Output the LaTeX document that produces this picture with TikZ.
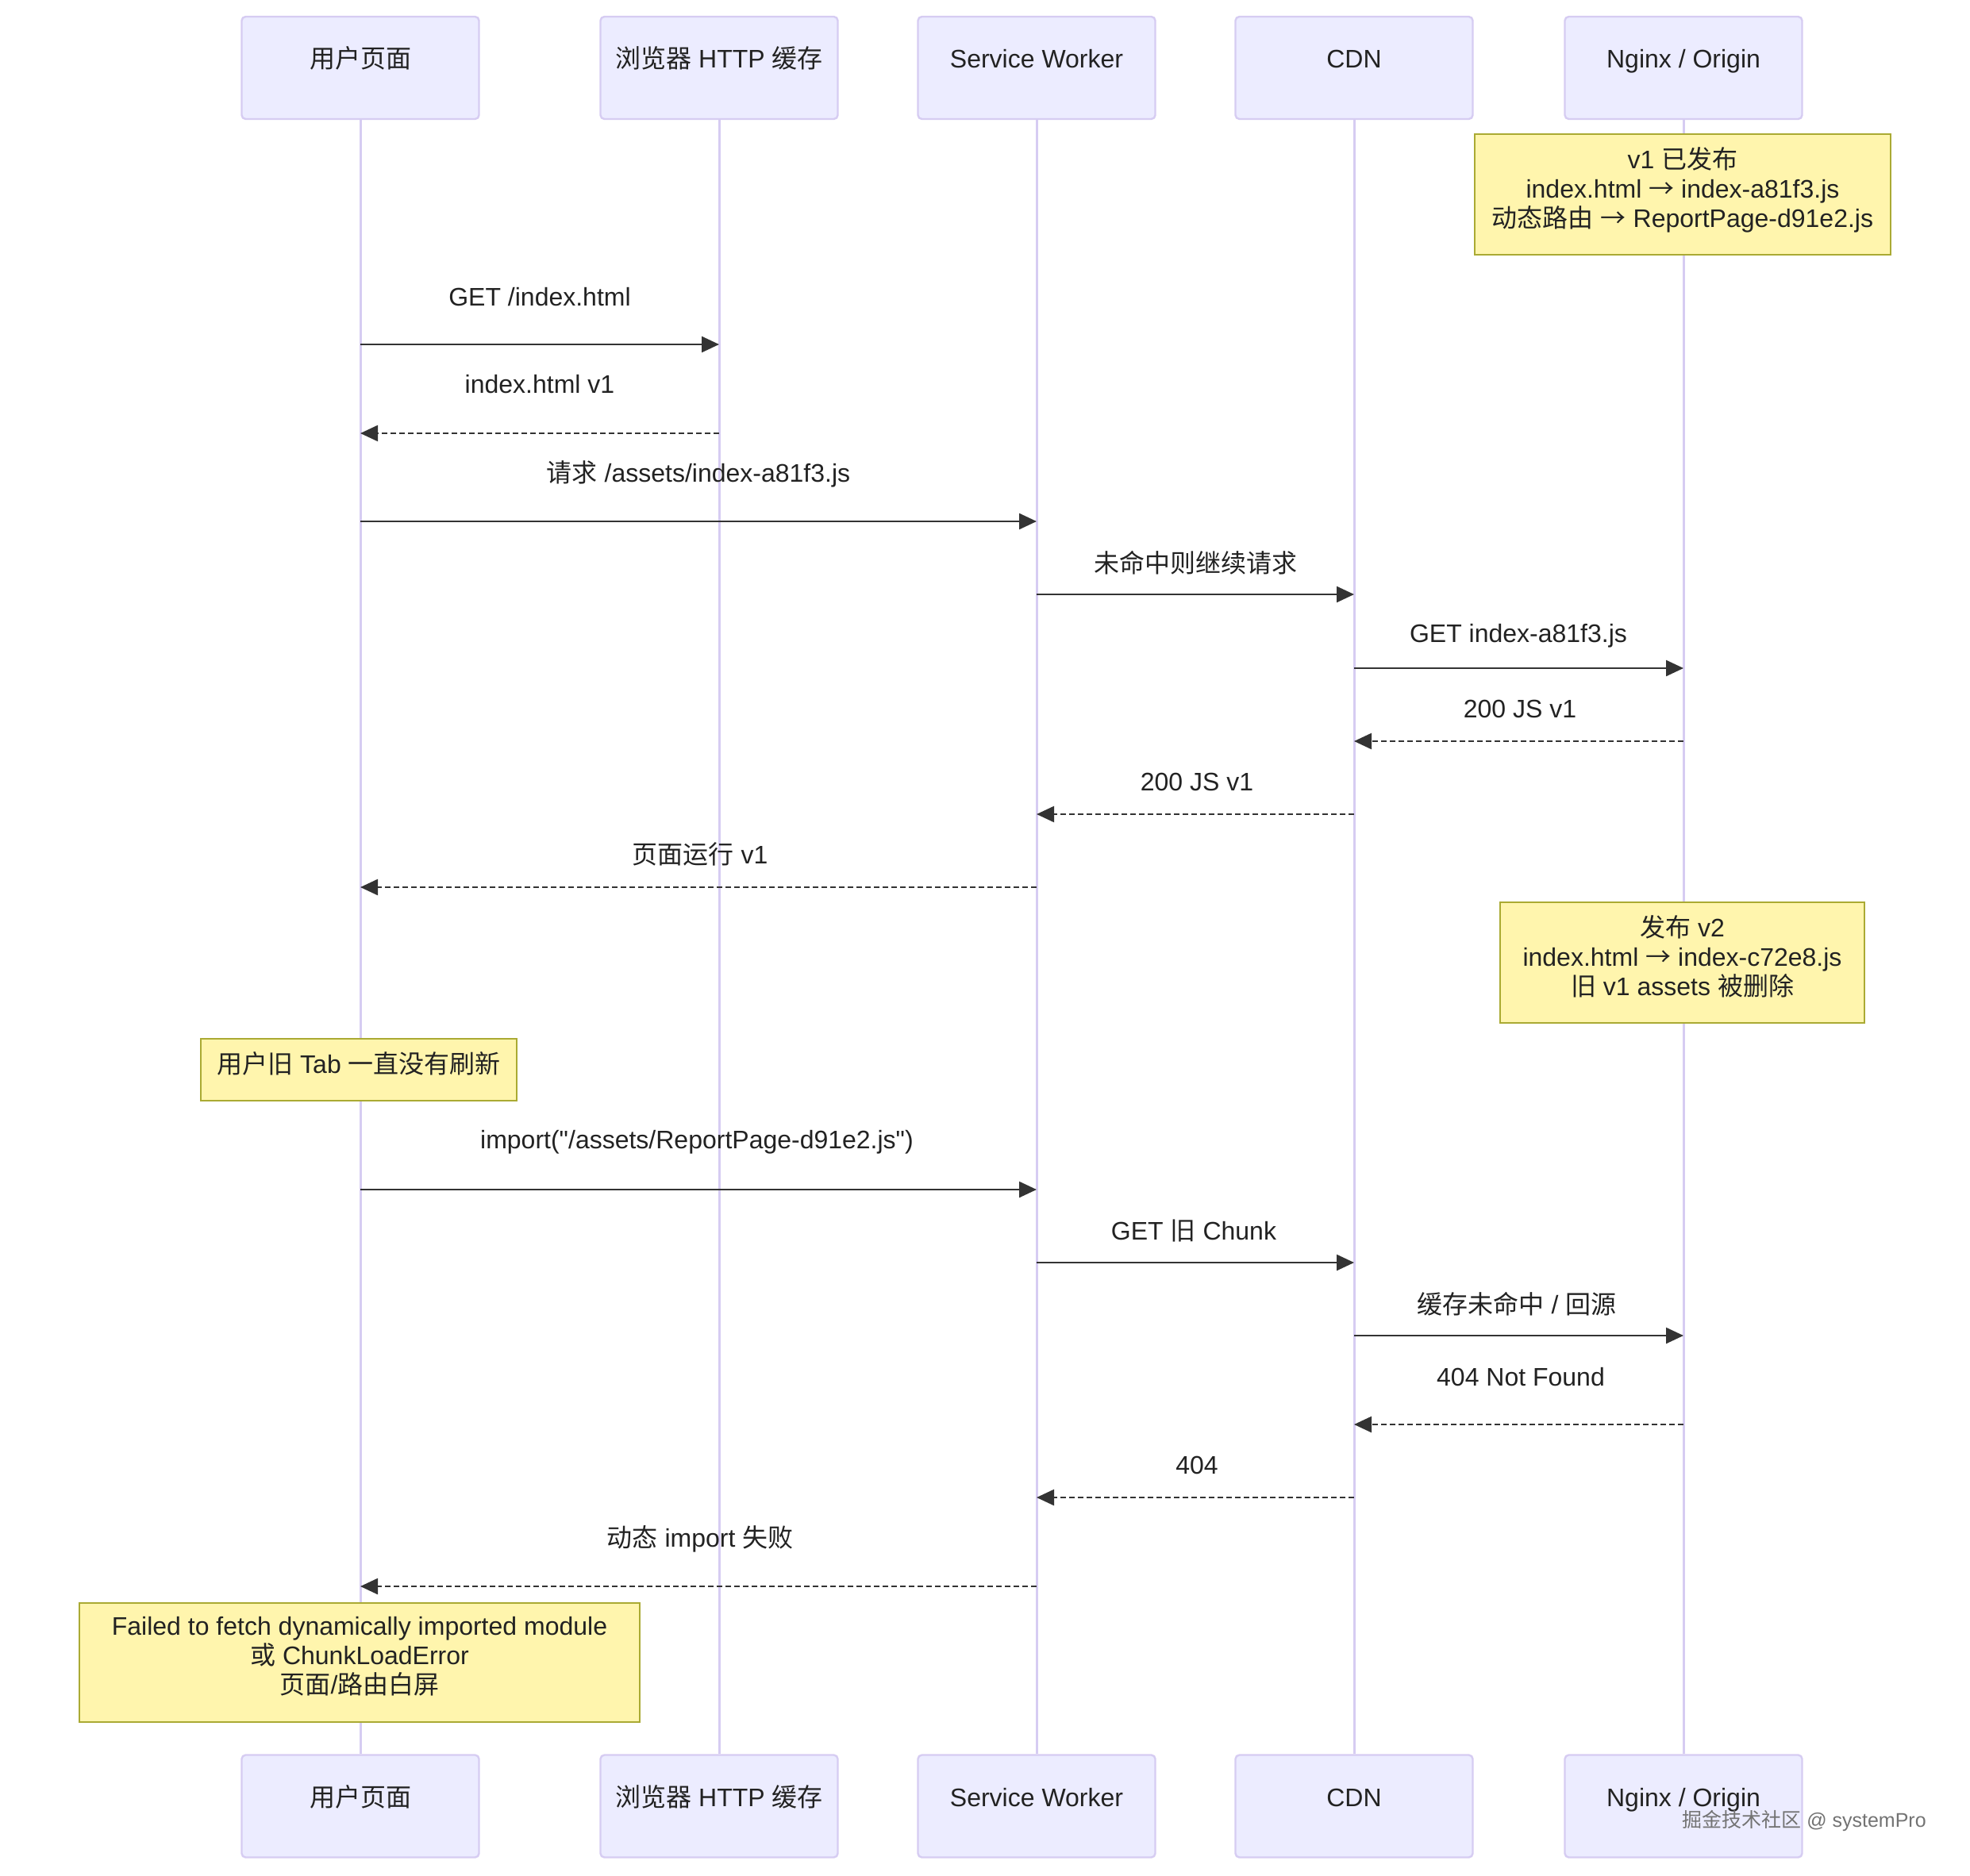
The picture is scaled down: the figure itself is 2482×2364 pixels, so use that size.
\documentclass[tikz,border=0pt]{standalone}
\usepackage{fontspec}
\setmainfont{Liberation Sans}
\newfontfamily\plainfont{Liberation Sans}
\newfontfamily\cjk{Noto Sans CJK SC}
\usetikzlibrary{arrows.meta}
\definecolor{actfill}{HTML}{ECECFF}
\definecolor{actline}{RGB}{214,204,242}
\definecolor{notefill}{HTML}{FFF5AD}
\definecolor{noteline}{HTML}{AAAA33}
\definecolor{txt}{HTML}{222222}
\definecolor{arr}{HTML}{333333}
\newcommand{\rarr}{{\cjk →}}
\tikzset{
  actor/.style={draw=actline, line width=1.2pt, fill=actfill, rounded corners=2.5pt,
    minimum width=149.5pt, minimum height=64.5pt, inner sep=0pt, text=txt,
    text height=8pt, text depth=8pt},
  life/.style={draw=actline, line width=1.5pt},
  note/.style={draw=noteline, line width=1pt, fill=notefill, inner sep=0pt,
    align=center, text=txt, font=\fontsize{16}{18.5}\selectfont, text depth=9pt},
  lbl/.style={inner sep=0pt, text=txt},
  msg/.style={draw=arr, line width=1.2pt, -{Triangle[length=11pt,width=10pt]}},
  reply/.style={msg, dash pattern=on 3.5pt off 2pt}
}
\begin{document}
\begin{tikzpicture}[x=0.5pt,y=-0.5pt, font=\fontsize{16}{18.5}\selectfont]
\useasboundingbox[fill=white] (0,0) rectangle (2482,2364);

% actors top
\node[actor] (a1) at (454,85.5) {\cjk 用户页面};
\node[actor] (a2) at (906,85.5) {{\cjk 浏览器} HTTP {\cjk 缓存}};
\node[actor] (a3) at (1306,85.5) {Service Worker};
\node[actor] (a4) at (1706,85.5) {CDN};
\node[actor] (a5) at (2121,85.5) {Nginx / Origin};
% actors bottom
\node[actor] (b1) at (454,2276) {\cjk 用户页面};
\node[actor] (b2) at (906,2276) {{\cjk 浏览器} HTTP {\cjk 缓存}};
\node[actor] (b3) at (1306,2276) {Service Worker};
\node[actor] (b4) at (1706,2276) {CDN};
\node[actor] (b5) at (2121,2276) {Nginx / Origin};

% lifelines
\foreach \i in {1,...,5} {\draw[life] (a\i.south) -- (b\i.north);}

% notes
\node[note, minimum width=262pt, minimum height=76pt] (n1) at (2120,245)
  {v1 {\cjk 已发布}\\index.html \rarr{} index-a81f3.js\\{\cjk 动态路由} \rarr{} ReportPage-d91e2.js};
\node[note, minimum width=229.5pt, minimum height=76pt] (n2) at (2119.5,1213)
  {{\cjk 发布} v2\\index.html \rarr{} index-c72e8.js\\{\cjk 旧} v1 assets {\cjk 被删除}};
\node[note, minimum width=199pt, minimum height=39pt] (n3) at (452,1348)
  {{\cjk 用户旧} Tab {\cjk 一直没有刷新}};
\node[note, minimum width=353pt, minimum height=75pt] (n4) at (453,2095)
  {Failed to fetch dynamically imported module\\{\cjk 或} ChunkLoadError\\{\cjk 页面}/{\cjk 路由白屏}};

% messages
\node[lbl] (l1) at (680,374) {GET /index.html};
\draw[msg] (a1 |- 0,434) -- (a2 |- 0,434);
\node[lbl] (l2) at (680,484) {index.html v1};
\draw[reply] (a2 |- 0,546) -- (a1 |- 0,546);
\node[lbl] (l3) at (880,597) {{\cjk 请求} /assets/index-a81f3.js};
\draw[msg] (a1 |- 0,657) -- (a3 |- 0,657);
\node[lbl] (l4) at (1506,709) {\cjk 未命中则继续请求};
\draw[msg] (a3 |- 0,749) -- (a4 |- 0,749);
\node[lbl] (l5) at (1913,801) {GET index-a81f3.js};
\draw[msg] (a4 |- 0,842) -- (a5 |- 0,842);
\node[lbl] (l6) at (1915,893) {200 JS v1};
\draw[reply] (a5 |- 0,934) -- (a4 |- 0,934);
\node[lbl] (l7) at (1508,985) {200 JS v1};
\draw[reply] (a4 |- 0,1026) -- (a3 |- 0,1026);
\node[lbl] (l8) at (882,1076) {{\cjk 页面运行} v1};
\draw[reply] (a3 |- 0,1118) -- (a1 |- 0,1118);

\node[lbl] (l9) at (878,1439) {\plainfont import("/assets/ReportPage-d91e2.js")};
\draw[msg] (a1 |- 0,1499) -- (a3 |- 0,1499);
\node[lbl] (l10) at (1504,1551) {GET {\cjk 旧} Chunk};
\draw[msg] (a3 |- 0,1591) -- (a4 |- 0,1591);
\node[lbl] (l11) at (1911,1643) {{\cjk 缓存未命中} / {\cjk 回源}};
\draw[msg] (a4 |- 0,1683) -- (a5 |- 0,1683);
\node[lbl] (l12) at (1916,1735) {404 Not Found};
\draw[reply] (a5 |- 0,1795) -- (a4 |- 0,1795);
\node[lbl] (l13) at (1508,1846) {404};
\draw[reply] (a4 |- 0,1887) -- (a3 |- 0,1887);
\node[lbl] (l14) at (882,1939) {{\cjk 动态} import {\cjk 失败}};
\draw[reply] (a3 |- 0,1999) -- (a1 |- 0,1999);

% watermark
\node[inner sep=0pt, text=black!55, font=\fontsize{12.5}{14}\selectfont] (wm) at (2273,2294)
  {{\cjk 掘金技术社区} @ systemPro};
\end{tikzpicture}
\end{document}
